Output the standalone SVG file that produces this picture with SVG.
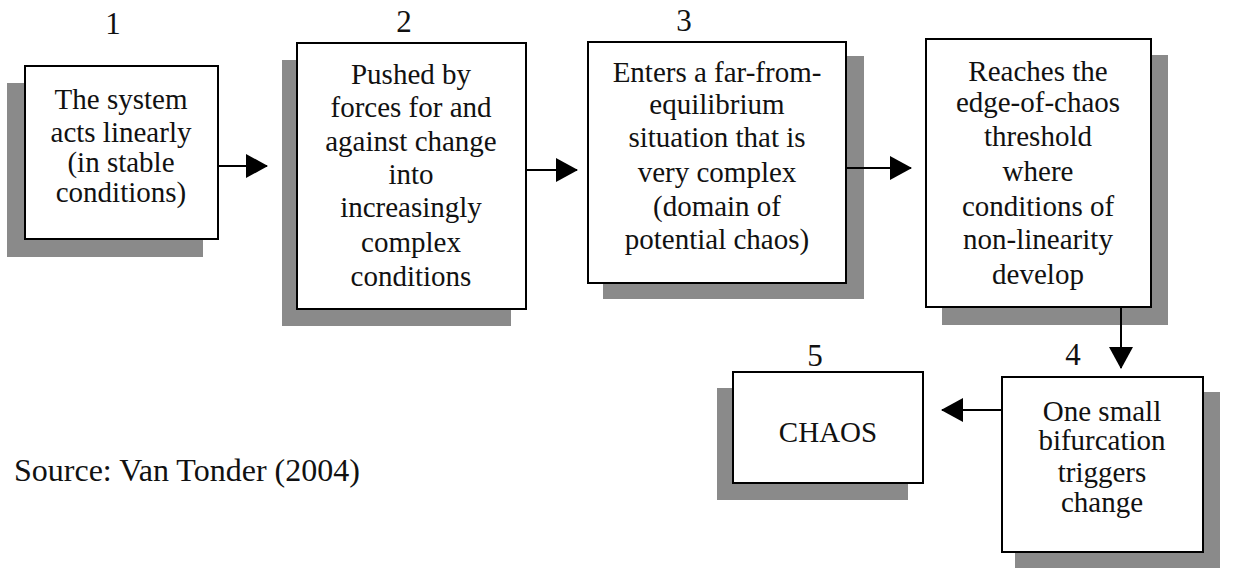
<svg xmlns="http://www.w3.org/2000/svg" width="1236" height="568" viewBox="0 0 1236 568">
<style>
.shadow{fill:#8a8a8a;}
.box{fill:#fff;stroke:#000;stroke-width:2;}
.t{font-family:'Liberation Serif',serif;font-size:29px;fill:#111;text-anchor:middle;}
.n{font-family:'Liberation Serif',serif;font-size:31px;fill:#111;text-anchor:middle;}
.conn{stroke:#000;stroke-width:2;fill:none;}
</style>
<defs>
<marker id="ah" markerWidth="22" markerHeight="24" refX="21" refY="12" orient="auto" markerUnits="userSpaceOnUse">
<path d="M0,0 L22,12 L0,24 Z" fill="#000"/>
</marker>
</defs>
<rect width="1236" height="568" fill="#fff"/>
<g id="labels">
<text class="n" x="113" y="34">1</text>
<text class="n" x="404" y="32">2</text>
<text class="n" x="684" y="31">3</text>
<text class="n" x="1073" y="365">4</text>
<text class="n" x="815" y="366">5</text>
</g>
<g id="node1">
<rect class="shadow" x="7" y="83" width="196" height="174"/>
<rect class="box" x="25" y="66" width="193" height="173"/>
<text class="t" x="121" y="109">The system</text>
<text class="t" x="121" y="142">acts linearly</text>
<text class="t" x="121" y="172">(in stable</text>
<text class="t" x="121" y="202">conditions)</text>
</g>
<g id="node2">
<rect class="shadow" x="282" y="60" width="229" height="266"/>
<rect class="box" x="297" y="43" width="229" height="266"/>
<text class="t" x="411" y="84">Pushed by</text>
<text class="t" x="411" y="117">forces for and</text>
<text class="t" x="411" y="151">against change</text>
<text class="t" x="411" y="184">into</text>
<text class="t" x="411" y="217">increasingly</text>
<text class="t" x="411" y="252">complex</text>
<text class="t" x="411" y="286">conditions</text>
</g>
<g id="node3">
<rect class="shadow" x="603" y="56" width="261" height="243"/>
<rect class="box" x="588" y="42" width="258" height="241"/>
<text class="t" x="717" y="82">Enters a far-from-</text>
<text class="t" x="717" y="114">equilibrium</text>
<text class="t" x="717" y="147">situation that is</text>
<text class="t" x="717" y="182">very complex</text>
<text class="t" x="717" y="216">(domain of</text>
<text class="t" x="717" y="249">potential chaos)</text>
</g>
<g id="node4">
<rect class="shadow" x="942" y="55" width="226" height="270"/>
<rect class="box" x="926" y="39" width="225" height="268"/>
<text class="t" x="1038" y="81">Reaches the</text>
<text class="t" x="1038" y="112">edge-of-chaos</text>
<text class="t" x="1038" y="146">threshold</text>
<text class="t" x="1038" y="181">where</text>
<text class="t" x="1038" y="216">conditions of</text>
<text class="t" x="1038" y="249">non-linearity</text>
<text class="t" x="1038" y="284">develop</text>
</g>
<g id="node5">
<rect class="shadow" x="717" y="388" width="191" height="112"/>
<rect class="box" x="733" y="372" width="190" height="111"/>
<text class="t" x="828" y="442">CHAOS</text>
</g>
<g id="node6">
<rect class="shadow" x="1015" y="392" width="205" height="176"/>
<rect class="box" x="1002" y="377" width="201" height="175"/>
<text class="t" x="1102" y="421">One small</text>
<text class="t" x="1102" y="450">bifurcation</text>
<text class="t" x="1102" y="482">triggers</text>
<text class="t" x="1102" y="512">change</text>
</g>
<g id="source">
<text x="14" y="481" font-family="Liberation Serif, serif" font-size="32" fill="#111">Source: Van Tonder (2004)</text>
</g>
<g id="connectors">
<line class="conn" x1="218" y1="166" x2="267" y2="166" marker-end="url(#ah)"/>
<line class="conn" x1="526" y1="170" x2="577" y2="170" marker-end="url(#ah)"/>
<line class="conn" x1="846" y1="168" x2="911" y2="168" marker-end="url(#ah)"/>
<line class="conn" x1="1121" y1="307" x2="1121" y2="368" marker-end="url(#ah)"/>
<line class="conn" x1="1002" y1="410" x2="942" y2="410" marker-end="url(#ah)"/>
</g>
</svg>
